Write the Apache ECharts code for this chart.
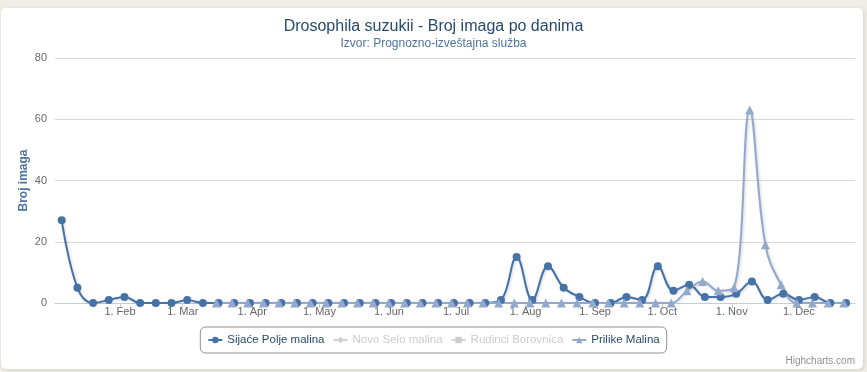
<!DOCTYPE html>
<html>
<head>
<meta charset="utf-8">
<script src="https://cdn.jsdelivr.net/npm/echarts@6/dist/echarts.min.js"></script>
<style>
html,body{margin:0;padding:0;background:#eeede6;}
#chart{width:867px;height:372px;}
</style>
</head>
<body>
<div id="chart"></div>
<script>
// ---- data ----
const seriesNames = ['Sijaće Polje malina', 'Novo Selo malina', 'Rudinci Borovnica', 'Prilike Malina'];

const sijaceDates = ['2014-01-06','2014-01-13','2014-01-20','2014-01-27','2014-02-03','2014-02-10','2014-02-17','2014-02-24',
  '2014-03-03','2014-03-10','2014-03-17','2014-03-24','2014-03-31','2014-04-07','2014-04-14','2014-04-21','2014-04-28',
  '2014-05-05','2014-05-12','2014-05-19','2014-05-26','2014-06-02','2014-06-09','2014-06-16','2014-06-23','2014-06-30',
  '2014-07-07','2014-07-14','2014-07-21','2014-07-28','2014-08-04','2014-08-11','2014-08-18','2014-08-25','2014-09-01',
  '2014-09-08','2014-09-15','2014-09-22','2014-09-29','2014-10-06','2014-10-13','2014-10-20','2014-10-27','2014-11-03',
  '2014-11-10','2014-11-17','2014-11-24','2014-12-01','2014-12-08','2014-12-15','2014-12-22'];
const sijaceValues = [27,5,0,1,2,0,0,0,1,0,
  0,0,0,0,0,0,0,0,0,0,
  0,0,0,0,0,0,0,0,1,15,
  1,12,5,2,0,0,2,1,12,4,
  6,2,2,3,7,1,3,1,2,0,
  0];

const novoSeloDates = [];
const novoSeloValues = [];
const rudinciDates = [];
const rudinciValues = [];

const prilikeDates = ['2014-03-16','2014-03-23','2014-03-30','2014-04-06','2014-04-13','2014-04-20','2014-04-27',
  '2014-05-04','2014-05-11','2014-05-18','2014-05-25','2014-06-01','2014-06-08','2014-06-15','2014-06-22','2014-06-29',
  '2014-07-06','2014-07-13','2014-07-20','2014-07-27','2014-08-03','2014-08-10','2014-08-17','2014-08-24','2014-08-31',
  '2014-09-07','2014-09-14','2014-09-21','2014-09-28','2014-10-05','2014-10-12','2014-10-19','2014-10-26','2014-11-02',
  '2014-11-09','2014-11-16','2014-11-23','2014-11-30','2014-12-07','2014-12-14','2014-12-21'];
const prilikeValues = [0,0,0,0,0,0,0,0,0,0,
  0,0,0,0,0,0,0,0,0,0,
  0,0,0,0,0,0,0,0,0,0,
  4,7,4,5,63,19,6,0,0,0,
  0];

const xTickDates = ['2014-02-01','2014-03-01','2014-04-01','2014-05-01','2014-06-01','2014-07-01',
  '2014-08-01','2014-09-01','2014-10-01','2014-11-01','2014-12-01'];
const xTickLabels = ['1. Feb','1. Mar','1. Apr','1. May','1. Jun','1. Jul','1. Aug','1. Sep','1. Oct','1. Nov','1. Dec'];
const xMinDate = '2014-01-03';
const xMaxDate = '2014-12-26';

// ---- helpers ----
function ts(s){ const p = s.split('-'); return Date.UTC(+p[0], +p[1]-1, +p[2]); }
function pairs(d, v){ return d.map((x,i)=>[ts(x), v[i]]); }
const tickTs = xTickDates.map(ts);
const labelMap = {};
tickTs.forEach((t,i)=>{ labelMap[t] = xTickLabels[i]; });

const FONT = '"Liberation Sans", Arial, sans-serif';
const shadow = {shadowColor:'rgba(0,0,0,0.18)', shadowBlur:3, shadowOffsetX:1, shadowOffsetY:1};

function lineSeries(name, data, color, symbol, size){
  return {
    name, type:'line', data, smooth:0.4,
    symbol, symbolSize:size, showSymbol:true,
    itemStyle:{color},
    lineStyle:Object.assign({color, width:2}, shadow),
    emphasis:{disabled:true},
    animation:false
  };
}

const chart = echarts.init(document.getElementById('chart'), null, {renderer:'canvas'});
chart.setOption({
  backgroundColor:'#eeede6',
  textStyle:{fontFamily:FONT},
  graphic:[
    {type:'rect', z:-10, shape:{x:1, y:8, width:862, height:361, r:5},
     style:{fill:'#ffffff', shadowColor:'rgba(0,0,0,0.12)', shadowBlur:4, shadowOffsetX:1, shadowOffsetY:1}},
    {type:'text', right:12, top:356, style:{text:'Highcharts.com', fill:'#909090', font:'10px ' + FONT}}
  ],
  title:{
    text:'Drosophila suzukii - Broj imaga po danima',
    subtext:'Izvor: Prognozno-izveštajna služba',
    left:'center', top:14, itemGap:3,
    textStyle:{fontSize:16, fontWeight:'normal', color:'#274b6d', fontFamily:FONT},
    subtextStyle:{fontSize:12, color:'#4d759e', fontFamily:FONT}
  },
  legend:{
    data:seriesNames,
    bottom:19, left:'center',
    orient:'horizontal',
    borderColor:'#909090', borderWidth:1, borderRadius:5,
    padding:[7,7], itemGap:8, itemWidth:14, itemHeight:8,
    textStyle:{fontSize:11.5, color:'#274b6d', fontFamily:FONT},
    inactiveColor:'#cccccc',
    selected:{'Novo Selo malina':false, 'Rudinci Borovnica':false}
  },
  grid:{left:55, right:12, top:58, bottom:69},
  xAxis:{
    type:'value', min:ts(xMinDate), max:ts(xMaxDate),
    axisLine:{lineStyle:{color:'#C0D0E0', width:1}},
    axisTick:{show:true, length:5, lineStyle:{color:'#C0D0E0'}, customValues:tickTs},
    axisLabel:{customValues:tickTs, color:'#666666', fontSize:11, margin:3,
      formatter:(v)=> labelMap[v] !== undefined ? labelMap[v] : ''},
    splitLine:{show:false}
  },
  yAxis:{
    type:'value', min:0, max:80, interval:20,
    name:'Broj imaga', nameLocation:'middle', nameGap:25, nameRotate:90,
    nameMoveOverlap:false,
    nameTextStyle:{color:'#4d759e', fontWeight:'bold', fontSize:12, fontFamily:FONT},
    axisLine:{show:false}, axisTick:{show:false},
    axisLabel:{color:'#666666', fontSize:11, margin:8},
    splitLine:{lineStyle:{color:'#D8D8D8', width:1}}
  },
  series:[
    lineSeries(seriesNames[0], pairs(sijaceDates, sijaceValues), '#4572A7', 'circle', 8),
    lineSeries(seriesNames[1], pairs(novoSeloDates, novoSeloValues), '#AA4643', 'diamond', 9),
    lineSeries(seriesNames[2], pairs(rudinciDates, rudinciValues), '#89A54E', 'rect', 8),
    lineSeries(seriesNames[3], pairs(prilikeDates, prilikeValues), '#92A8CD', 'triangle', 9)
  ]
});
</script>
</body>
</html>
